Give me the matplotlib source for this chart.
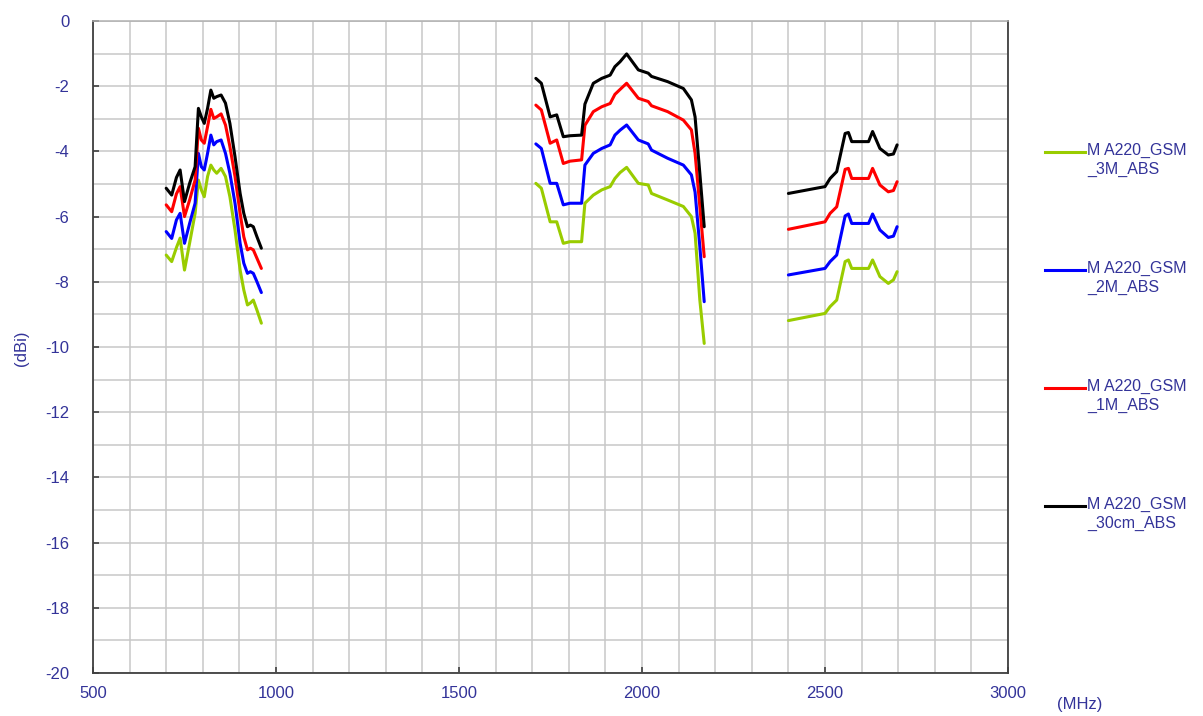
import matplotlib
matplotlib.use("Agg")
import matplotlib.pyplot as plt
from matplotlib.lines import Line2D

plt.rcParams["font.family"] = ["Liberation Sans", "DejaVu Sans"]
plt.rcParams["axes.unicode_minus"] = False

TXT = "#333399"

# --- data (freq in MHz, gain in dBi) ------------------------------------
band1_f = [700, 715, 728, 738, 750, 764, 779, 788, 796, 804, 813, 822, 830,
           838, 850, 862, 874, 888, 902, 912, 922, 930, 938, 948, 960]
band1_3m = [-7.18, -7.38, -6.95, -6.66, -7.64, -6.81, -5.90, -4.88, -5.18, -5.39,
            -4.77, -4.42, -4.57, -4.67, -4.52, -4.77, -5.39, -6.41, -7.64, -8.25,
            -8.71, -8.65, -8.56, -8.87, -9.27]
band1_2m = [-6.46, -6.67, -6.10, -5.90, -6.82, -6.21, -5.59, -4.06, -4.47, -4.57,
            -4.06, -3.50, -3.80, -3.70, -3.65, -4.06, -4.67, -5.59, -6.82, -7.43,
            -7.74, -7.69, -7.74, -8.00, -8.33]
band1_1m = [-5.64, -5.85, -5.30, -5.08, -6.00, -5.49, -4.88, -3.29, -3.65, -3.75,
            -3.24, -2.71, -2.99, -2.94, -2.85, -3.19, -3.85, -4.77, -5.90, -6.62,
            -7.02, -6.97, -7.02, -7.28, -7.59]
band1_30cm = [-5.13, -5.34, -4.80, -4.57, -5.54, -4.98, -4.47, -2.68, -2.94, -3.14,
              -2.68, -2.12, -2.37, -2.32, -2.27, -2.52, -3.14, -4.16, -5.29, -5.90,
              -6.31, -6.26, -6.31, -6.62, -6.97]

band2_f = [1710, 1725, 1749, 1767, 1785, 1803, 1835, 1844, 1867, 1890, 1913, 1926,
           1940, 1958, 1990, 2017, 2026, 2070, 2113, 2135, 2145, 2158, 2170]
band2_3m = [-4.98, -5.13, -6.16, -6.16, -6.82, -6.77, -6.77, -5.59, -5.34, -5.18,
            -5.08, -4.83, -4.65, -4.49, -4.98, -5.03, -5.29, -5.49, -5.69, -6.00,
            -6.51, -8.56, -9.89]
band2_2m = [-3.77, -3.91, -4.98, -4.98, -5.64, -5.59, -5.59, -4.42, -4.06, -3.91,
            -3.80, -3.50, -3.35, -3.19, -3.65, -3.77, -3.96, -4.21, -4.42, -4.72,
            -5.25, -6.92, -8.61]
band2_1m = [-2.58, -2.73, -3.75, -3.65, -4.37, -4.30, -4.26, -3.20, -2.78, -2.63,
            -2.53, -2.25, -2.10, -1.91, -2.37, -2.47, -2.60, -2.78, -3.04, -3.34,
            -4.06, -5.69, -7.23]
band2_30cm = [-1.76, -1.91, -2.94, -2.88, -3.55, -3.52, -3.50, -2.55, -1.91, -1.76,
              -1.66, -1.40, -1.25, -1.01, -1.50, -1.60, -1.70, -1.86, -2.07, -2.42,
              -2.94, -4.67, -6.31]

band3_f = [2400, 2500, 2514, 2532, 2555, 2564, 2573, 2619, 2630, 2650, 2673, 2687, 2697]
band3_3m = [-9.19, -8.97, -8.76, -8.56, -7.38, -7.33, -7.59, -7.59, -7.33, -7.84,
            -8.05, -7.94, -7.69]
band3_2m = [-7.79, -7.59, -7.38, -7.18, -5.98, -5.92, -6.21, -6.21, -5.92, -6.41,
            -6.64, -6.60, -6.31]
band3_1m = [-6.39, -6.16, -5.90, -5.70, -4.55, -4.52, -4.83, -4.83, -4.52, -5.03,
            -5.24, -5.20, -4.93]
band3_30cm = [-5.29, -5.08, -4.83, -4.62, -3.45, -3.42, -3.70, -3.70, -3.39, -3.91,
              -4.11, -4.08, -3.80]

series = [
    ("M A220_GSM\n_3M_ABS", "#99cc00", [band1_3m, band2_3m, band3_3m]),
    ("M A220_GSM\n_2M_ABS", "#0000ff", [band1_2m, band2_2m, band3_2m]),
    ("M A220_GSM\n_1M_ABS", "#ff0000", [band1_1m, band2_1m, band3_1m]),
    ("M A220_GSM\n_30cm_ABS", "#000000", [band1_30cm, band2_30cm, band3_30cm]),
]
bands_f = [band1_f, band2_f, band3_f]

# --- figure --------------------------------------------------------------
W, H = 1203, 716
fig = plt.figure(figsize=(W / 100, H / 100), dpi=100)
ax = fig.add_axes([93 / W, 1 - 673 / H, (1008 - 93) / W, (673 - 21) / H])

ax.set_xlim(500, 3000)
ax.set_ylim(-20, 0)
ax.set_xticks(range(500, 3001, 500))
ax.set_yticks(range(-20, 1, 2))
ax.set_xticks(range(500, 3001, 100), minor=True)
ax.set_yticks(range(-20, 1, 1), minor=True)
ax.grid(True, which="both", color="#c8c8c8", lw=1.1)
ax.set_axisbelow(True)

for name, col, vals in series:
    for f, v in zip(bands_f, vals):
        ax.plot(f, v, color=col, lw=2.2, solid_joinstyle="round",
                solid_capstyle="round")

ax.tick_params(which="major", direction="in", length=4, width=1.2,
               colors="#404040", labelcolor=TXT, labelsize=12)
ax.tick_params(axis="y", pad=17)
ax.tick_params(axis="x", pad=9)
ax.tick_params(which="minor", length=0)
for s in ("left", "bottom", "right"):
    ax.spines[s].set_color("#404040")
    ax.spines[s].set_linewidth(1.3)
ax.spines["top"].set_color("#b0b0b0")
ax.spines["top"].set_linewidth(1.1)

fig.text(22 / W, 1 - 348 / H, "(dBi)", rotation=90, ha="center", va="center",
         color=TXT, fontsize=12)
fig.text(1080 / W, 1 - 705 / H, "(MHz)", ha="center", va="center",
         color=TXT, fontsize=12)

# legend drawn by hand so the key line sits on the first text line
for i, (name, col, _) in enumerate(series):
    yc = 152 + i * 118
    fig.add_artist(Line2D([1045 / W, 1085 / W], [1 - yc / H, 1 - yc / H],
                          color=col, lw=2.2, transform=fig.transFigure))
    fig.text(1087 / W, 1 - (yc - 9) / H, name, ha="left", va="top",
             color=TXT, fontsize=11.5, linespacing=1.3)

fig.savefig("out.png", dpi=100)
